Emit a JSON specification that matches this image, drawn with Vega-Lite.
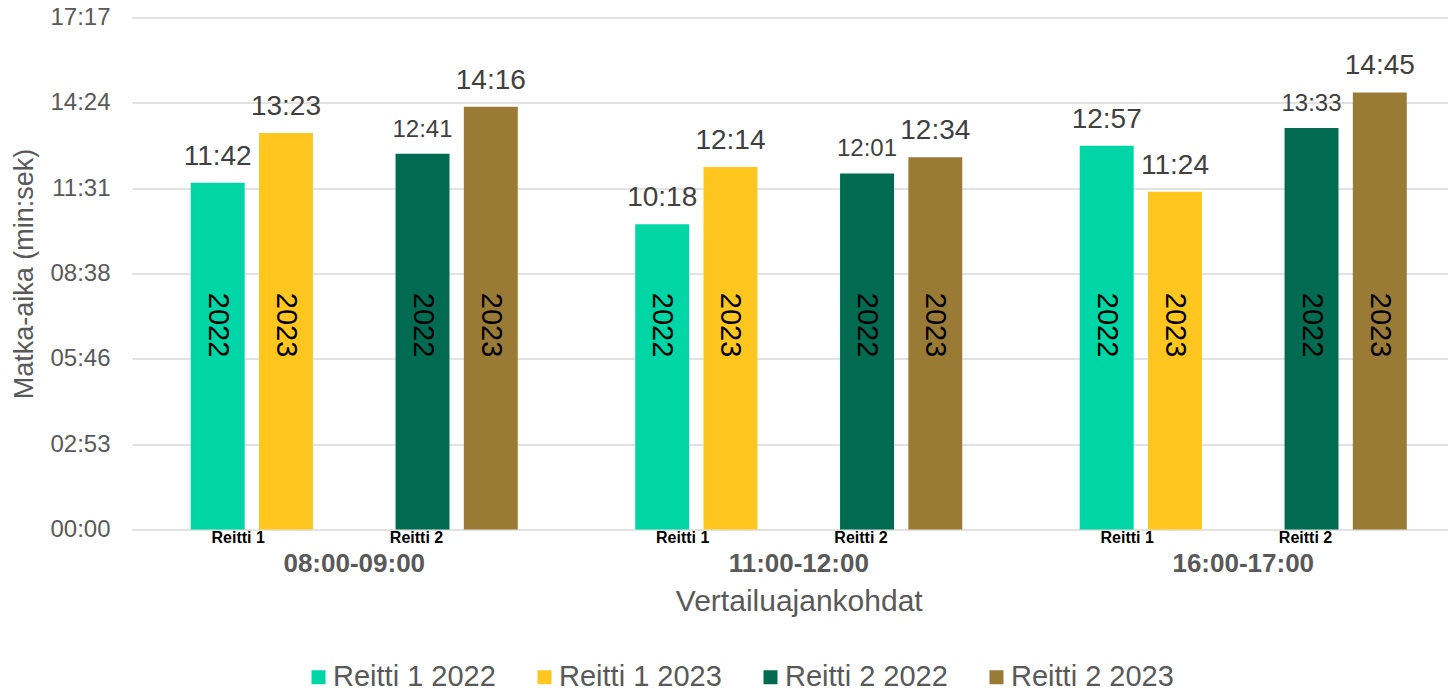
{
  "$schema": "https://vega.github.io/schema/vega-lite/v6.json",
  "width": 1316,
  "height": 512,
  "autosize": {"type": "none"},
  "padding": {"left": 132, "top": 17.5, "right": 0, "bottom": 161.5},
  "background": "white",
  "config": {"view": {"stroke": null}, "font": "Liberation Sans"},
  "data": {
    "values": [
      {"ajankohta": "08:00-09:00", "reitti": "Reitti 1", "vuosi": "2022", "sarja": "Reitti 1 2022", "aika": "11:42", "sekunnit": 702},
      {"ajankohta": "08:00-09:00", "reitti": "Reitti 1", "vuosi": "2023", "sarja": "Reitti 1 2023", "aika": "13:23", "sekunnit": 803},
      {"ajankohta": "08:00-09:00", "reitti": "Reitti 2", "vuosi": "2022", "sarja": "Reitti 2 2022", "aika": "12:41", "sekunnit": 761},
      {"ajankohta": "08:00-09:00", "reitti": "Reitti 2", "vuosi": "2023", "sarja": "Reitti 2 2023", "aika": "14:16", "sekunnit": 856},
      {"ajankohta": "11:00-12:00", "reitti": "Reitti 1", "vuosi": "2022", "sarja": "Reitti 1 2022", "aika": "10:18", "sekunnit": 618},
      {"ajankohta": "11:00-12:00", "reitti": "Reitti 1", "vuosi": "2023", "sarja": "Reitti 1 2023", "aika": "12:14", "sekunnit": 734},
      {"ajankohta": "11:00-12:00", "reitti": "Reitti 2", "vuosi": "2022", "sarja": "Reitti 2 2022", "aika": "12:01", "sekunnit": 721},
      {"ajankohta": "11:00-12:00", "reitti": "Reitti 2", "vuosi": "2023", "sarja": "Reitti 2 2023", "aika": "12:34", "sekunnit": 754},
      {"ajankohta": "16:00-17:00", "reitti": "Reitti 1", "vuosi": "2022", "sarja": "Reitti 1 2022", "aika": "12:57", "sekunnit": 777},
      {"ajankohta": "16:00-17:00", "reitti": "Reitti 1", "vuosi": "2023", "sarja": "Reitti 1 2023", "aika": "11:24", "sekunnit": 684},
      {"ajankohta": "16:00-17:00", "reitti": "Reitti 2", "vuosi": "2022", "sarja": "Reitti 2 2022", "aika": "13:33", "sekunnit": 813},
      {"ajankohta": "16:00-17:00", "reitti": "Reitti 2", "vuosi": "2023", "sarja": "Reitti 2 2023", "aika": "14:45", "sekunnit": 885}
    ]
  },
  "encoding": {
    "x": {
      "field": "ajankohta",
      "type": "nominal",
      "sort": null,
      "scale": {"range": [0, 1333.5], "paddingInner": 0, "paddingOuter": 0},
      "axis": {
        "title": "Vertailuajankohdat",
        "titleFontSize": 30,
        "titleFontWeight": "normal",
        "titleColor": "#595959",
        "titlePadding": 10,
        "labelFontSize": 26,
        "labelFontWeight": "bold",
        "labelColor": "#595959",
        "labelPadding": 21,
        "labelAngle": 0,
        "ticks": false,
        "tickSize": 0,
        "domain": false,
        "grid": false
      }
    },
    "xOffset": {
      "field": "sarja",
      "type": "nominal",
      "scale": {
        "domain": ["Reitti 1 2022", "Reitti 1 2023", "_", "Reitti 2 2022", "Reitti 2 2023"],
        "paddingInner": 0.21,
        "paddingOuter": 0.86
      }
    }
  },
  "layer": [
    {
      "mark": {"type": "bar"},
      "encoding": {
        "y": {
          "field": "sekunnit",
          "type": "quantitative",
          "scale": {"domain": [0, 1036.8], "nice": false, "zero": true},
          "axis": {
            "title": "Matka-aika (min:sek)",
            "titleFontSize": 27,
            "titleFontWeight": "normal",
            "titleColor": "#595959",
            "titlePadding": 11,
            "values": [0, 172.8, 345.6, 518.4, 691.2, 864, 1036.8],
            "labelExpr": "utcFormat(round(datum.value) * 1000, '%M:%S')",
            "labelFontSize": 24,
            "labelColor": "#595959",
            "labelPadding": 22,
            "ticks": false,
            "tickSize": 0,
            "domain": false,
            "gridColor": "#d9d9d9",
            "gridWidth": 1.5
          }
        },
        "color": {
          "field": "sarja",
          "type": "nominal",
          "scale": {
            "domain": ["Reitti 1 2022", "Reitti 1 2023", "Reitti 2 2022", "Reitti 2 2023"],
            "range": ["#00D6A5", "#FFC61F", "#006B51", "#9A7B36"]
          },
          "legend": {
            "orient": "none",
            "direction": "horizontal",
            "legendX": 172,
            "legendY": 645,
            "title": null,
            "padding": 0,
            "labelFontSize": 29,
            "labelColor": "#595959",
            "labelLimit": 400,
            "symbolType": "square",
            "symbolSize": 196,
            "symbolStrokeWidth": 0,
            "labelOffset": 0,
            "columnPadding": 34
          }
        }
      }
    },
    {
      "transform": [{"filter": "datum.sarja != 'Reitti 2 2022'"}],
      "mark": {"type": "text", "fontSize": 28, "color": "#404040", "baseline": "alphabetic", "align": "center", "dy": -18},
      "encoding": {
        "y": {"field": "sekunnit", "type": "quantitative"},
        "text": {"field": "aika"}
      }
    },
    {
      "transform": [{"filter": "datum.sarja == 'Reitti 2 2022'"}],
      "mark": {"type": "text", "fontSize": 24, "color": "#404040", "baseline": "alphabetic", "align": "center", "dy": -17},
      "encoding": {
        "y": {"field": "sekunnit", "type": "quantitative"},
        "text": {"field": "aika"}
      }
    },
    {
      "mark": {"type": "text", "fontSize": 29, "color": "#000000", "angle": 90, "baseline": "middle", "align": "center"},
      "encoding": {
        "y": {"datum": 414, "type": "quantitative"},
        "text": {"field": "vuosi"}
      }
    },
    {
      "transform": [{"filter": "datum.sarja == 'Reitti 1 2022'"}],
      "mark": {"type": "text", "fontSize": 16, "fontWeight": "bold", "color": "#000000", "baseline": "alphabetic", "align": "center", "dx": 20.5, "dy": 13.5},
      "encoding": {
        "y": {"datum": 0, "type": "quantitative"},
        "text": {"field": "reitti"}
      }
    },
    {
      "transform": [{"filter": "datum.sarja == 'Reitti 2 2022'"}],
      "mark": {"type": "text", "fontSize": 16, "fontWeight": "bold", "color": "#000000", "baseline": "alphabetic", "align": "center", "dx": -6, "dy": 13.5},
      "encoding": {
        "y": {"datum": 0, "type": "quantitative"},
        "text": {"field": "reitti"}
      }
    }
  ]
}
